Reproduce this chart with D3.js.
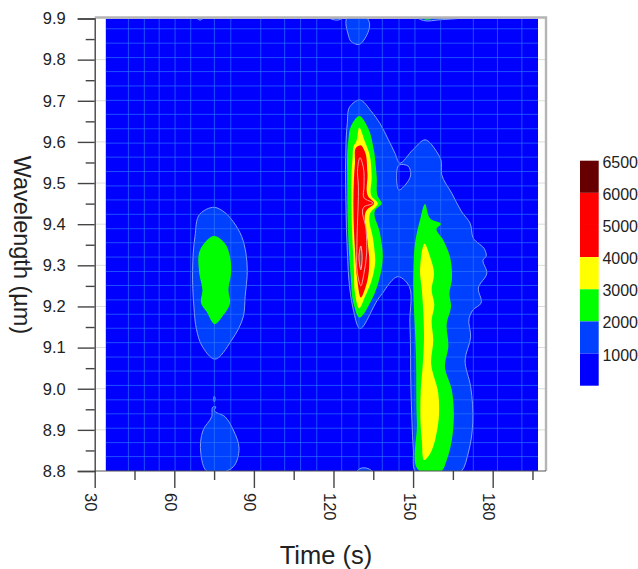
<!DOCTYPE html>
<html><head><meta charset="utf-8">
<script src="https://cdn.jsdelivr.net/npm/d3@7"></script>
<style>html,body{margin:0;padding:0;background:#fff}svg{display:block}text{font-family:"Liberation Sans",Arial,sans-serif;fill:#222}</style>
</head><body><svg id="c" width="638" height="569"></svg>
<script>
// Contour levels and legend
const legendLevels=[6500,6000,5000,4000,3000,2000,1000,0];
const legendColors=["#660000","#ff0000","#ff0000","#ffff00","#00ff00","#0040ff","#0000ff"];
const xTicks=[30,60,90,120,150,180];
const xMinor=[45,75,105,135,165,195];
const yTicks=[8.8,8.9,9.0,9.1,9.2,9.3,9.4,9.5,9.6,9.7,9.8,9.9];
const yMinor=[8.85,8.95,9.05,9.15,9.25,9.35,9.45,9.55,9.65,9.75,9.85];
// Sampling grid of the measurement
const sampleTimes=[42.7,48.7,54.3,60.3,66.2,75.1,81.3,92.6,101.6,107.6,113.7,123.1,129.6,138.4,144.7,150.7,160.4,172.7,181.8,191.0];
const sampleWaves=[8.835,8.869,8.904,8.939,8.973,9.008,9.043,9.077,9.112,9.147,9.181,9.216,9.251,9.285,9.320,9.355,9.389,9.424,9.459,9.493,9.528,9.563,9.597,9.632,9.667,9.701,9.736,9.771,9.805,9.840,9.875];
const timeRange=[34.1,197.1];
// Contour rings: [time s, wavelength um]
const ring1000Main=[[129.7,9.147],[127.5,9.191],[126.2,9.240],[125.2,9.337],[124.7,9.442],[124.6,9.564],[125.2,9.645],[126.2,9.686],[129.7,9.702],[134.4,9.673],[137.5,9.645],[140.7,9.605],[143.2,9.572],[144.8,9.549],[150.1,9.582],[154.5,9.605],[158.9,9.576],[160.5,9.556],[160.8,9.520],[164.6,9.475],[168.3,9.430],[171.5,9.402],[172.7,9.366],[177.1,9.337],[177.5,9.321],[176.5,9.315],[177.8,9.281],[174.6,9.245],[175.6,9.208],[172.5,9.191],[171.1,9.171],[171.7,9.126],[169.6,9.070],[171.7,9.005],[172.5,8.917],[170.8,8.844],[168.3,8.8],[150.7,8.8],[150.1,8.851],[149.2,8.997],[148.8,9.160],[147.8,9.257],[144.9,9.272],[137.5,9.224]];
const ring1000Hole=[[144.8,9.544],[148.2,9.541],[149.1,9.520],[147.0,9.495],[144.8,9.483],[143.8,9.514]];
const ring1000Left=[[75.1,9.441],[79.1,9.428],[82.2,9.406],[85.4,9.370],[87.0,9.329],[87.5,9.289],[86.7,9.224],[86.0,9.175],[81.6,9.118],[75.1,9.072],[70.3,9.106],[68.4,9.143],[67.4,9.199],[66.9,9.289],[67.8,9.370],[69.7,9.425]];
const ring1000Lower=[[75.1,8.948],[79.1,8.932],[82.2,8.900],[84.4,8.855],[82.2,8.810],[79.8,8.8],[72.2,8.8],[70.0,8.843],[70.9,8.900],[74.1,8.932],[74.7,8.956],[75.6,8.956]];
const ring1000Spike=[[75.1,8.982],[75.4,8.975],[75.1,8.968],[74.8,8.975]];
const ring1000Top=[[125.0,9.9],[125.6,9.860],[126.5,9.845],[129.7,9.837],[131.9,9.852],[133.5,9.891],[132.8,9.9]];
const ring1000TopRight=[[152.0,9.9],[153.9,9.895],[160.2,9.897],[167.0,9.9]];
const ring1000TopA=[[68.6,9.9],[69.7,9.896],[70.8,9.9]];
const ring1000TopB=[[118.7,9.9],[121.5,9.896],[123.2,9.9]];
const ring1000Bottom=[[128.9,8.8],[130,8.806],[133,8.806],[134.5,8.8]];
const ring2000A=[[129.7,9.173],[127.5,9.208],[126.5,9.272],[125.6,9.361],[125.2,9.483],[125.6,9.605],[126.5,9.637],[129.7,9.663],[133.1,9.633],[135.0,9.588],[136.3,9.515],[136.8,9.466],[138.2,9.451],[135.7,9.434],[137.5,9.379],[138.6,9.321],[137.5,9.272],[134.4,9.216]];
const ring2000B=[[152.6,8.8],[151.4,8.916],[151.1,9.078],[150.1,9.281],[150.7,9.353],[152.6,9.410],[154.5,9.449],[156.4,9.414],[160.5,9.400],[158.9,9.390],[161.4,9.361],[163.9,9.321],[164.6,9.264],[163.7,9.232],[164.3,9.199],[162.7,9.159],[163.3,9.102],[162.0,9.054],[164.6,8.997],[164.6,8.875],[162.7,8.827],[160.8,8.8]];
const ring2000Left=[[75.1,9.371],[79.1,9.353],[81.0,9.321],[81.4,9.281],[80.4,9.240],[81.0,9.208],[78.5,9.179],[75.3,9.157],[72.2,9.187],[70.1,9.208],[70.6,9.240],[69.4,9.281],[69.7,9.337]];
const ring2000Top=[[153.6,9.9],[155.1,9.897],[157.4,9.9]];
const ring3000A=[[129.7,9.195],[128.1,9.232],[127.7,9.289],[126.9,9.402],[127.2,9.564],[127.7,9.592],[128.5,9.600],[129.7,9.635],[131.9,9.600],[133.5,9.572],[134.4,9.515],[134.4,9.467],[136.7,9.451],[133.8,9.426],[135.0,9.361],[135.7,9.305],[134.4,9.264],[131.9,9.224]];
const ring3000B=[[154.5,9.352],[156.4,9.321],[157.9,9.281],[157.0,9.240],[158.0,9.204],[157.0,9.167],[157.6,9.118],[156.8,9.062],[159.5,8.989],[159.1,8.900],[155.7,8.835],[154.5,8.827],[153.3,8.875],[152.9,8.997],[153.6,9.054],[154.1,9.118],[153.3,9.240],[152.6,9.289]];
const ring4000=[[130.3,9.222],[129.0,9.264],[128.1,9.337],[127.5,9.459],[128.1,9.548],[128.8,9.588],[130.3,9.592],[131.6,9.580],[132.8,9.524],[133.1,9.467],[135.3,9.451],[132.5,9.434],[132.8,9.361],[133.5,9.313],[132.8,9.264]];
const ring5000=[[130.0,9.562],[129.1,9.536],[129.4,9.491],[129.0,9.394],[128.8,9.337],[129.0,9.281],[130.3,9.250],[131.5,9.281],[132.5,9.330],[132.3,9.386],[131.5,9.442],[134.9,9.451],[131.5,9.464],[131.5,9.491],[131.2,9.540]];
const ring6000=[[130.3,9.347],[130.8,9.321],[130.3,9.289],[129.6,9.321]];

const svg=d3.select("#c");
const x=d3.scaleLinear().domain([30,200.7]).range([94.7,547.6]);
const y=d3.scaleLinear().domain([8.8,9.9]).range([471,18.5]);
const ringPath=d3.line().x(d=>x(d[0])).y(d=>y(d[1])).curve(d3.curveCatmullRomClosed.alpha(0.9));
const closed=r=>ringPath(r);

svg.append("clipPath").attr("id","plot").append("rect")
  .attr("x",x(timeRange[0])).attr("y",y(9.9)).attr("width",x(timeRange[1])-x(timeRange[0])).attr("height",y(8.8)-y(9.9));

// light major grid behind the plot, showing in the white margins
svg.append("g").selectAll("line").data(yTicks.slice(1,-1)).join("line")
  .attr("x1",x(30)).attr("x2",x(200)).attr("y1",d=>y(d)).attr("y2",d=>y(d)).attr("stroke","#dcdcdc");

const plot=svg.append("g").attr("clip-path","url(#plot)");
// base field
plot.append("rect").attr("x",x(timeRange[0])).attr("y",y(9.9)).attr("width",x(timeRange[1])-x(timeRange[0])).attr("height",y(8.8)-y(9.9)).attr("fill","#0000ff");

// band 1000-2000
const lineBlue="#7f9dff";
const rings1000=[ring1000Left,ring1000Lower,ring1000Spike,ring1000Top,ring1000TopRight,ring1000TopA,ring1000TopB,ring1000Bottom];
plot.append("path").attr("d",closed(ring1000Main)+closed(ring1000Hole)).attr("fill","#0040ff").attr("fill-rule","evenodd").attr("stroke",lineBlue).attr("stroke-width",1);
plot.append("g").selectAll("path").data(rings1000).join("path").attr("d",closed).attr("fill","#0040ff").attr("stroke",lineBlue).attr("stroke-width",1);

// sampling grid
const grid=plot.append("g").attr("stroke","#2f78ff").attr("stroke-opacity",0.65).attr("stroke-width",1);
grid.selectAll("line.v").data(sampleTimes).join("line").attr("class","v")
  .attr("x1",d=>x(d)).attr("x2",d=>x(d)).attr("y1",y(9.9)).attr("y2",y(8.8));
grid.selectAll("line.h").data(sampleWaves).join("line").attr("class","h")
  .attr("x1",x(timeRange[0])).attr("x2",x(timeRange[1])).attr("y1",d=>y(d)).attr("y2",d=>y(d));

// higher bands
const bands=[
 {rings:[ring2000A,ring2000B,ring2000Left,ring2000Top],fill:"#00ff00",stroke:null},
 {rings:[ring3000A,ring3000B],fill:"#ffff00",stroke:null},
 {rings:[ring4000],fill:"#ff0000",stroke:null},
 {rings:[ring5000],fill:"#ff0000",stroke:"#ff9d9d"},
 {rings:[ring6000],fill:"#8a4a4a",stroke:"#ffb4b4"}];
bands.forEach(b=>{
  plot.append("g").selectAll("path").data(b.rings).join("path").attr("d",closed)
    .attr("fill",b.fill).attr("stroke",b.stroke||"none").attr("stroke-width",1);
});

// frame
svg.append("path").attr("d",`M${x(30)},17.5H546V${y(8.8)}`).attr("fill","none").attr("stroke","#b4b4b4").attr("stroke-width",2.4);
svg.append("line").attr("x1",x(30)).attr("x2",546).attr("y1",y(8.8)).attr("y2",y(8.8)).attr("stroke","#555").attr("stroke-width",1.2);

// axes
const axisColor="#444";
const yAxis=d3.axisLeft(y).tickValues(yTicks).tickFormat(d3.format(".1f")).tickSize(17).tickPadding(12);
const yG=svg.append("g").attr("transform",`translate(${x(30)},0)`).call(yAxis);
yG.select(".domain").attr("stroke",axisColor).attr("stroke-width",1.4);
yG.selectAll(".tick line").attr("stroke",axisColor).attr("stroke-width",1.4);
yG.selectAll("text").attr("font-size",16.5).style("font-family",'"Liberation Sans",Arial,sans-serif').attr("fill","#222");
const yMinorAxis=d3.axisLeft(y).tickValues(yMinor).tickFormat("").tickSize(9).tickSizeOuter(0);
const yM=svg.append("g").attr("transform",`translate(${x(30)},0)`).call(yMinorAxis);
yM.select(".domain").remove();yM.selectAll("line").attr("stroke",axisColor).attr("stroke-width",1.4);

const xAxis=d3.axisBottom(x).tickValues(xTicks).tickSize(17).tickSizeOuter(0).tickFormat(d3.format("d"));
const xG=svg.append("g").attr("transform",`translate(0,${y(8.8)})`).call(xAxis);
xG.select(".domain").remove();
xG.selectAll(".tick line").attr("stroke",axisColor).attr("stroke-width",1.4);
xG.selectAll("text").attr("font-size",16.5).style("font-family",'"Liberation Sans",Arial,sans-serif').attr("fill","#222")
  .attr("text-anchor","start").attr("dy",0)
  .attr("transform","translate(-10,22) rotate(90)").attr("y",0).attr("x",0);
const xMinorAxis=d3.axisBottom(x).tickValues(xMinor).tickFormat("").tickSize(9).tickSizeOuter(0);
const xM=svg.append("g").attr("transform",`translate(0,${y(8.8)})`).call(xMinorAxis);
xM.select(".domain").remove();xM.selectAll("line").attr("stroke",axisColor).attr("stroke-width",1.4);

// titles
svg.append("text").attr("x",326).attr("y",564).attr("text-anchor","middle").attr("font-size",25.5).text("Time (s)");
svg.append("text").attr("transform","translate(14,245) rotate(90)").attr("text-anchor","middle").attr("font-size",23.5).text("Wavelength (µm)");

// legend
const ly=d3.scalePoint().domain(legendLevels).range([160.7,385.7]);
svg.append("g").selectAll("rect").data(legendColors).join("rect")
  .attr("x",580).attr("width",18.7)
  .attr("y",(d,i)=>ly(legendLevels[i])).attr("height",(d,i)=>ly(legendLevels[i+1])-ly(legendLevels[i]))
  .attr("fill",d=>d);
svg.append("g").selectAll("text").data(legendLevels.slice(0,-1)).join("text")
  .attr("x",638).attr("text-anchor","end").attr("font-size",16)
  .attr("y",d=>ly(d)+7).text(d=>d);
</script></body></html>
